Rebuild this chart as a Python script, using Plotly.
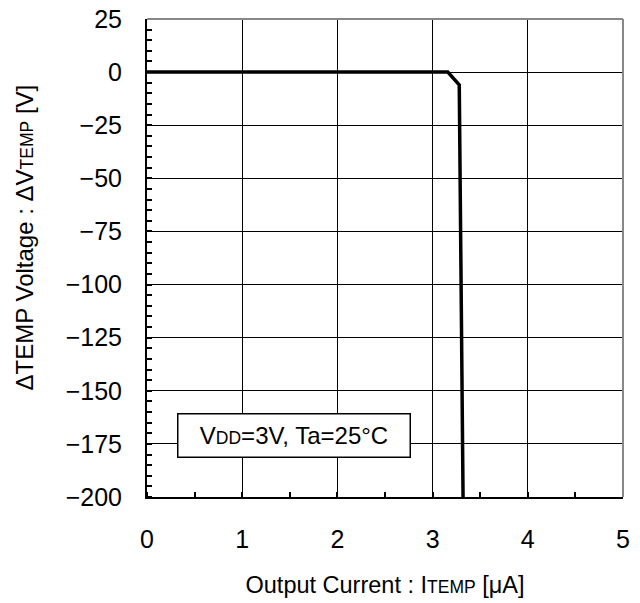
import plotly.graph_objects as go

current = [0, 3.16, 3.28, 3.32]
voltage = [0, 0, -6, -200]

x_ticks = [0, 1, 2, 3, 4, 5]
y_ticks = [25, 0, -25, -50, -75, -100, -125, -150, -175, -200]

FONT = "Liberation Sans, Arial, sans-serif"
SUB = "<span style='font-size:17.5px'>{}</span>"

fig = go.Figure()
fig.add_trace(go.Scatter(x=current, y=voltage, mode="lines",
                         line=dict(color="black", width=3.5), showlegend=False))

fig.update_layout(
    width=640, height=603,
    margin=dict(l=139, r=25, t=11, b=114),
    paper_bgcolor="white", plot_bgcolor="white",
    font=dict(family=FONT, color="black"),
)
fig.update_xaxes(
    range=[0, 5], tickvals=x_ticks, ticktext=[str(v) for v in x_ticks],
    showgrid=True, gridcolor="black", gridwidth=1.3,
    showline=True, linecolor="black", linewidth=2,
    ticks="", tickfont=dict(size=25), ticklabelstandoff=19, ticklabeloverflow="allow",
    minor=dict(dtick=0.5, ticks="inside", ticklen=5, tickwidth=1.5, tickcolor="black", showgrid=False),
    title=dict(text="Output Current : I" + SUB.format("TEMP") + " [μA]", font=dict(size=23.5), standoff=25),
    zeroline=False, automargin=False,
)
fig.update_yaxes(
    range=[-200, 25], tickvals=y_ticks, ticktext=[("−" + str(-v)) if v < 0 else str(v) for v in y_ticks],
    showgrid=True, gridcolor="black", gridwidth=1.3,
    showline=True, linecolor="black", linewidth=2,
    ticks="", tickfont=dict(size=25), ticklabelstandoff=18, ticklabeloverflow="allow",
    minor=dict(dtick=5, ticks="inside", ticklen=5, tickwidth=1.5, tickcolor="black", showgrid=False),
    zeroline=False, automargin=False,
)
# y-axis title (placed as in the reference, slightly above the axis centre)
fig.add_annotation(x=-0.2584, y=0.543, xref="paper", yref="paper",
                   text="ΔTEMP Voltage : ΔV" + SUB.format("TEMP") + " [V]",
                   textangle=-90, showarrow=False, xanchor="center", yanchor="middle",
                   font=dict(size=24, color="black"))

# top and right frame (gray)
fig.add_shape(type="line", xref="paper", yref="paper", x0=0, x1=1, y0=1, y1=1,
              line=dict(color="#888888", width=2))
fig.add_shape(type="line", xref="paper", yref="paper", x0=1, x1=1, y0=0, y1=1,
              line=dict(color="#888888", width=2))

fig.add_annotation(x=1.54, y=-171, xref="x", yref="y",
                   text="V" + SUB.format("DD") + "=3V, Ta=25°C", showarrow=False,
                   font=dict(size=24, color="black"),
                   bgcolor="white", bordercolor="black", borderwidth=1.5,
                   width=229, height=40)

fig.write_html("out.html")
